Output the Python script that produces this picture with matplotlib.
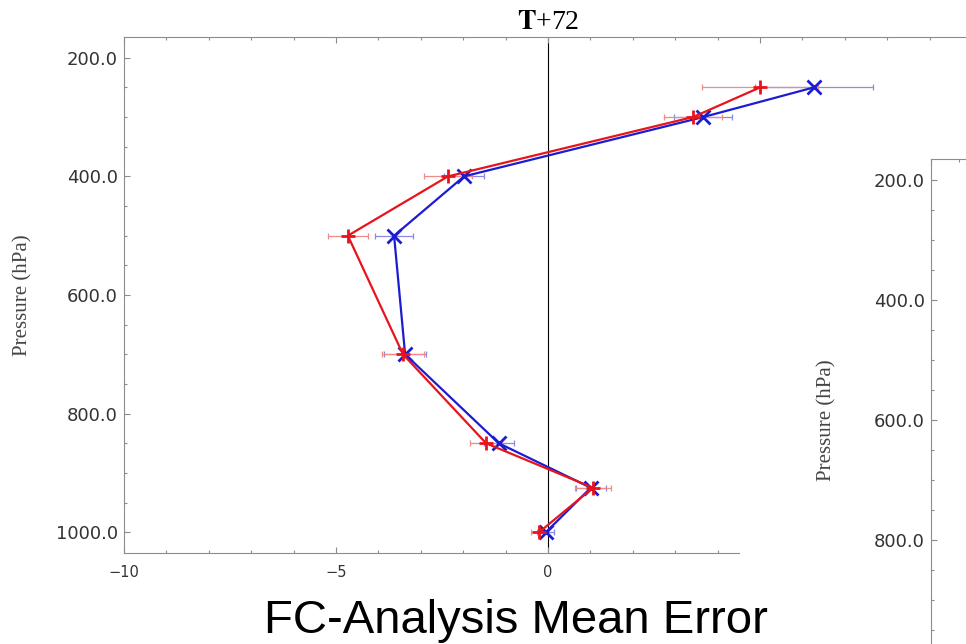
"""FC-Analysis mean error profile, T+72 (with the next panel peeking in on the right)."""

import matplotlib.pyplot as plt
from matplotlib.patches import Rectangle
from matplotlib.ticker import FormatStrFormatter, MultipleLocator

# %% Data
levels = [250, 300, 400, 500, 700, 850, 925, 1000]  # hPa
red_me = [5.0, 3.42, -2.36, -4.72, -3.42, -1.46, 1.06, -0.21]
red_err = [1.37, 0.68, 0.57, 0.47, 0.50, 0.38, 0.42, 0.20]
blue_me = [6.27, 3.66, -1.98, -3.63, -3.37, -1.16, 1.01, -0.05]
blue_err = [1.39, 0.68, 0.47, 0.45, 0.50, 0.35, 0.35, 0.20]

x_range = (-10, 10)
p_range = (1035, 165)
x_ticks = [-10, -5, 0, 5, 10]
x_labels = ["\u221210", "\u22125", "0", "", ""]  # 5 and 10 hidden under next panel
y_ticks = [200, 400, 600, 800, 1000]
y_ticks_next = [200, 400, 600, 800]
title = r"$\mathbf{T}$+72"
caption = "FC-Analysis Mean Error"

RED, RED_LIGHT = "#e8141c", "#f08a8a"
BLUE, BLUE_LIGHT = "#1c1cd0", "#8a8ae6"
SPINE = "#8c8c8c"
TEXT = "#333333"

plt.rcParams["mathtext.fontset"] = "stix"

W, H = 966, 644
fig = plt.figure(figsize=(W / 100, H / 100), dpi=100)


def px_rect(left, top, width, height):
    """Pixel box (top-left origin) -> figure fraction rect."""
    return [left / W, (H - top - height) / H, width / W, height / H]


def style_axes(ax, yticks):
    ax.set_xlim(*x_range)
    ax.set_ylim(*p_range)
    ax.set_xticks(x_ticks, x_labels)
    ax.xaxis.set_minor_locator(MultipleLocator(1))
    ax.set_yticks(yticks)
    ax.yaxis.set_minor_locator(MultipleLocator(50))
    ax.yaxis.set_major_formatter(FormatStrFormatter("%.1f"))
    for s in ax.spines.values():
        s.set_color(SPINE)
        s.set_linewidth(0.8)
    ax.tick_params(which="both", direction="in", top=True, right=True,
                   color=SPINE, width=0.8)
    ax.tick_params(which="major", length=4.5)
    ax.tick_params(which="minor", length=2.5)
    ax.tick_params(axis="y", labelsize=13, labelcolor=TEXT, pad=4.5)
    ax.tick_params(axis="x", labelsize=10.5, labelcolor=TEXT, pad=8.5)
    ax.set_ylabel("Pressure (hPa)", family="Liberation Serif",
                  fontsize=15, color="#444444")


# %% Main panel
ax = fig.add_axes(px_rect(124, 37, 848, 516), zorder=0)
style_axes(ax, y_ticks)
ax.yaxis.set_label_coords(-0.108, 0.5)
ax.axvline(0, color="black", lw=0.8, zorder=1)

ax.errorbar(blue_me, levels, xerr=blue_err, fmt="none", ecolor=BLUE_LIGHT,
            elinewidth=0.9, capsize=2, capthick=0.9, zorder=2)
ax.errorbar(red_me, levels, xerr=red_err, fmt="none", ecolor=RED_LIGHT,
            elinewidth=0.9, capsize=2, capthick=0.9, zorder=2)
ax.plot(blue_me, levels, color=BLUE, lw=1.6, marker="x", ms=10,
        mew=2, zorder=3)
ax.plot(red_me, levels, color=RED, lw=1.6, marker="+", ms=10,
        mew=2, zorder=4)

ax.set_title(title, family="Liberation Serif", fontsize=20, pad=6)

# %% Next panel, overlapping the lower right of the main one
fig.patches.append(Rectangle((740 / W, 0), 1 - 740 / W, (H - 122) / H,
                             transform=fig.transFigure, facecolor="white",
                             edgecolor="none", zorder=1))
ax2 = fig.add_axes(px_rect(931, 159, 560, 522), zorder=2)
style_axes(ax2, y_ticks_next)
ax2.yaxis.set_label_coords(-0.168, 0.5)
ax2.tick_params(axis="x", labelbottom=False)

fig.text(516 / W, (H - 633) / H, caption, ha="center", va="baseline",
         family="Liberation Sans", fontsize=34, color="black", zorder=5)

fig.savefig("out.png", dpi=100)
